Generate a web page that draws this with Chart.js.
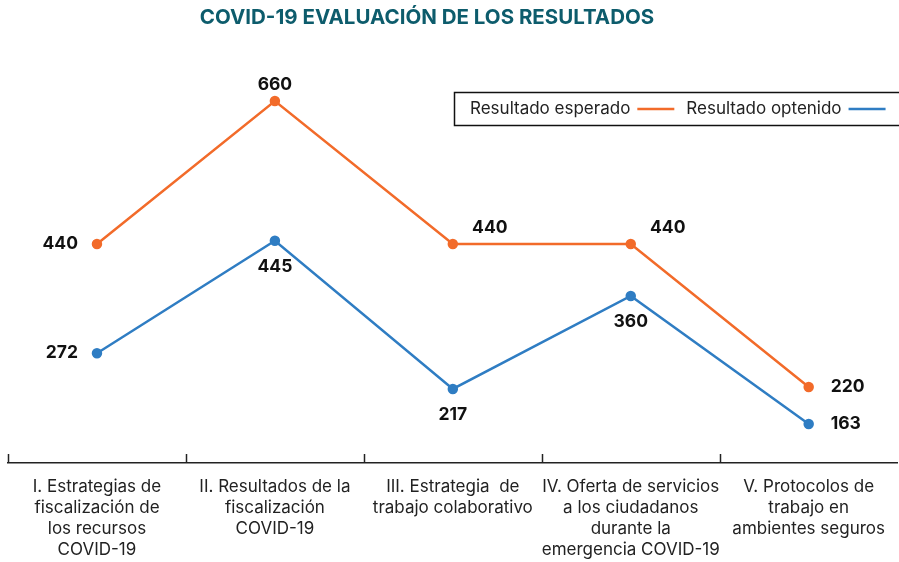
<!DOCTYPE html>
<html>
<head>
<meta charset="utf-8">
<script src="https://cdn.jsdelivr.net/npm/chart.js@4"></script>
<style>
  html, body { margin: 0; padding: 0; background: #fff; }
  #wrap { width: 899px; height: 562px; position: relative; }
</style>
</head>
<body>
<div id="wrap"><canvas id="grafico"></canvas></div>
<script>
const categorias = [
    ['I. Estrategias de', 'fiscalización de', 'los recursos', 'COVID-19'],
    ['II. Resultados de la', 'fiscalización', 'COVID-19'],
    ['III. Estrategia  de', 'trabajo colaborativo'],
    ['IV. Oferta de servicios', 'a los ciudadanos', 'durante la', 'emergencia COVID-19'],
    ['V. Protocolos de', 'trabajo en', 'ambientes seguros']
];
const esperado = [440, 660, 440, 440, 220];
const obtenido = [272, 445, 217, 360, 163];
const nomes = ['Resultado esperado', 'Resultado optenido'];
const titulo = 'COVID-19 EVALUACIÓN DE LOS RESULTADOS';

// onde fica cada rótulo em relação ao ponto
const posEsperado = ['left', 'top', 'topright', 'topright', 'right'];
const posObtenido = ['left', 'bottom', 'bottom', 'bottom', 'right'];

const corLaranja = '#f26b2a';
const corAzul = '#2f7dc3';
const fonte = 'Inter, "Noto Sans", sans-serif';

const pluginExtras = {
    id: 'extras',
    afterDraw(chart) {
        const ctx = chart.ctx;
        const area = chart.chartArea;
        const x = chart.scales.x;

        // titulo
        ctx.save();
        ctx.font = 'bold 20.5px ' + fonte;
        ctx.fillStyle = '#0d5c6c';
        ctx.textAlign = 'center';
        ctx.textBaseline = 'middle';
        ctx.fillText(titulo, 427, 18);
        ctx.restore();

        // marcas do eixo x (para cima)
        ctx.save();
        ctx.strokeStyle = '#222';
        ctx.lineWidth = 1.5;
        const meio = (x.getPixelForValue(1) - x.getPixelForValue(0)) / 2;
        for (let i = 0; i < categorias.length; i++) {
            const px = Math.round(x.getPixelForValue(i) - meio) + 0.5;
            ctx.beginPath();
            ctx.moveTo(px, area.bottom);
            ctx.lineTo(px, area.bottom - 9);
            ctx.stroke();
        }
        ctx.restore();

        // rotulos dos pontos
        ctx.save();
        ctx.font = 'bold 17.5px ' + fonte;
        ctx.fillStyle = '#111';
        ctx.textBaseline = 'middle';
        const posicoes = [posEsperado, posObtenido];
        chart.data.datasets.forEach((ds, d) => {
            const meta = chart.getDatasetMeta(d);
            meta.data.forEach((pt, i) => {
                const txt = String(ds.data[i]);
                const p = posicoes[d][i];
                let tx = pt.x, ty = pt.y;
                ctx.textAlign = 'center';
                if (p === 'left') { ctx.textAlign = 'right'; tx -= 19; }
                if (p === 'right') { ctx.textAlign = 'left'; tx += 22; }
                if (p === 'top') { ty -= 16; }
                if (p === 'bottom') { ty += 26; }
                if (p === 'topright') { tx += 37; ty -= 16; }
                ctx.fillText(txt, tx, ty);
            });
        });
        ctx.restore();

        // legenda com moldura
        ctx.save();
        ctx.strokeStyle = '#111';
        ctx.lineWidth = 1.5;
        ctx.strokeRect(454.5, 92.5, 460, 33);
        ctx.font = '17px ' + fonte;
        ctx.fillStyle = '#222';
        ctx.textAlign = 'left';
        ctx.textBaseline = 'middle';
        let lx = 470;
        chart.data.datasets.forEach((ds) => {
            ctx.fillText(ds.label, lx, 109);
            lx += ctx.measureText(ds.label).width + 7;
            ctx.strokeStyle = ds.borderColor;
            ctx.lineWidth = 2.5;
            ctx.beginPath();
            ctx.moveTo(lx, 109);
            ctx.lineTo(lx + 37, 109);
            ctx.stroke();
            lx += 37 + 12;
        });
        ctx.restore();
    }
};

new Chart(document.getElementById('grafico'), {
    type: 'line',
    data: {
        labels: categorias,
        datasets: [{
            label: nomes[0],
            data: esperado,
            borderColor: corLaranja,
            backgroundColor: corLaranja,
            borderWidth: 2.5,
            pointRadius: 4,
            pointHoverRadius: 4,
            tension: 0
        }, {
            label: nomes[1],
            data: obtenido,
            borderColor: corAzul,
            backgroundColor: corAzul,
            borderWidth: 2.5,
            pointRadius: 4,
            pointHoverRadius: 4,
            tension: 0
        }]
    },
    options: {
        responsive: true,
        maintainAspectRatio: false,
        animation: false,
        layout: {
            autoPadding: false,
            padding: { top: 40, left: 8, right: 0, bottom: 0 }
        },
        plugins: {
            legend: { display: false },
            title: { display: false },
            tooltip: { enabled: false }
        },
        scales: {
            y: {
                display: false,
                min: 103,
                max: 754
            },
            x: {
                offset: true,
                grid: { display: false, drawTicks: false },
                border: { display: true, color: '#222', width: 1.5 },
                ticks: {
                    color: '#222',
                    font: { family: fonte, size: 17, lineHeight: 1.22 },
                    padding: 14,
                    maxRotation: 0,
                    autoSkip: false
                },
                afterFit(scale) {
                    scale.height = 99;
                }
            }
        }
    },
    plugins: [pluginExtras]
});
</script>
</body>
</html>
